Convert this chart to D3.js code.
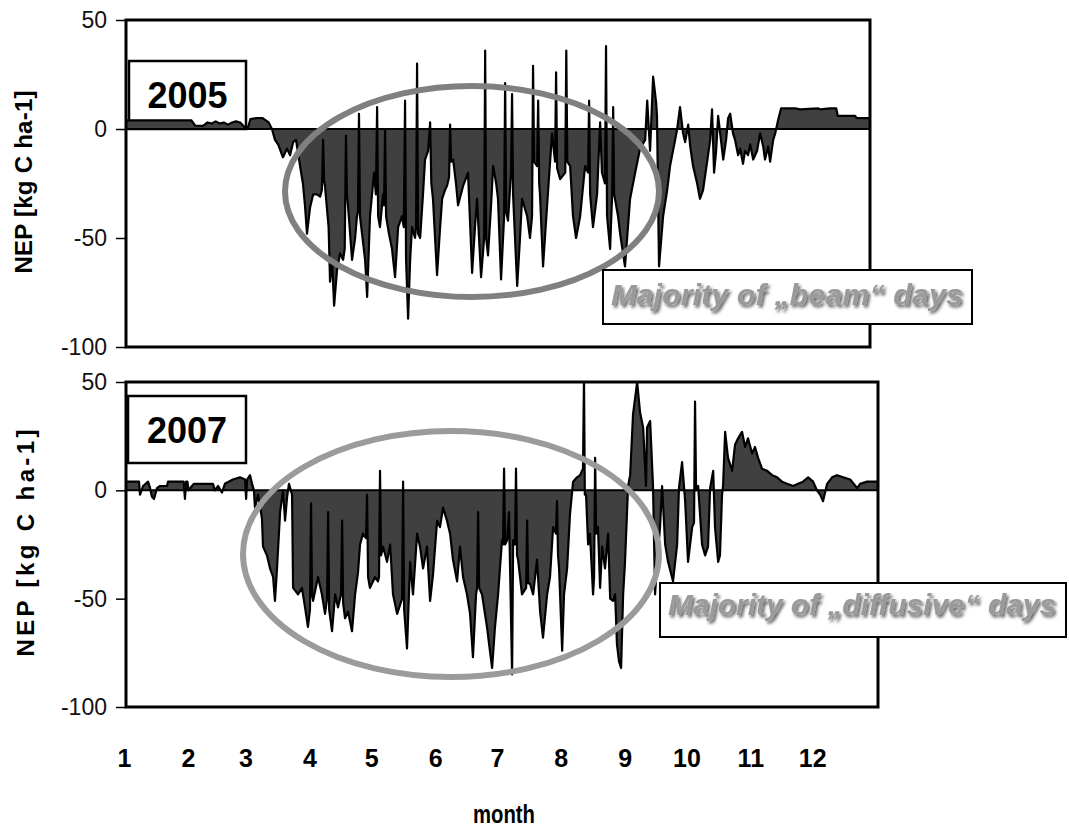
<!DOCTYPE html>
<html>
<head>
<meta charset="utf-8">
<script src="https://d3js.org/d3.v7.min.js"></script>
<style>
  html, body { margin: 0; padding: 0; background: #ffffff; }
  svg { display: block; }
  text { font-family: "Liberation Sans", Arial, Helvetica, sans-serif; }
</style>
</head>
<body>
<svg id="chart" width="1069" height="827"></svg>
<script>
// ---------------- DATA ----------------
// Month tick labels and their day-of-year positions (month start)
const monthLabels = ["1","2","3","4","5","6","7","8","9","10","11","12"];
const monthStartDays = [0,31,59,90,120,151,181,212,243,273,304,334];
const yTickValues = [50, 0, -50, -100];

// 2005 NEP series: day of year and value [kg C ha-1]
const days2005 = [
  0,32,34,38,40,42,44,46,48,50,52,54,56,58,60,61,64,67,70,71.6,
  73.1,74.6,77,79,80.5,82,83.4,85.4,86.8,87.8,88.8,90.3,91.8,93.7,95.2,96.1,96.7,97.2,97.6,
  99.4,100.1,101.1,102.1,103.5,105,106.5,107.3,107.9,108.4,108.9,110.9,112.4,113.3,113.8,114.3,114.8,115.8,117.3,118.3,119.7,
  121.7,122.6,123.2,123.7,124.6,126.1,126.6,127.1,127.6,129,
  130.5,132,133.5,135.4,136.3,136.9,137.4,138.4,139.4,140.3,141.8,142.3,142.8,143.3,144.3,145.7,146.7,148.2,149.2,149.8,
  150.6,152.6,154.1,155.1,156.5,157.5,158.5,159,159.5,
  160.5,161.9,162.9,165.4,167.8,169.8,171.2,172.2,174.2,175.7,176.2,176.7,177.6,179.1,180.1,181.6,182.5,184,185.5,186,186.5,
  187.4,188.9,189.4,189.9,
  191.9,193.3,194.3,196.8,198.2,199.2,199.7,200.2,201.7,202.2,202.7,203.1,204.6,206.6,209,210.5,211,211.5,213,215.5,216,216.5,
  217.9,219.3,220.8,
  222.8,225.2,226.7,227.2,227.7,229.1,231.1,232.6,233.5,235,235.5,236,237.5,238.5,239,239.5,241.4,242.4,244.8,247.3,249.8,
  252.2,254.7,255.7,257.1,258.6,260.1,260.5,261.5,
  263.5,265.5,266.9,269.4,270.4,271.8,273.3,274.3,275.8,276.8,278.2,280.2,281.6,283.1,285.1,286.6,287.5,288.5,289.5,290.5,291.5,
  293,294.4,295.4,296.4,297.8,298.8,300.3,301.3,302.7,303.7,305.2,306.2,307.7,309.6,311.1,312.6,313.5,315,316,317.5,318.5,319.9,321.4,
  328.3,330.7,339.5,340.5,345.4,348.4,349.2,357.7,358.5,365
];
const nep2005 = [
  4,4,1.5,1.5,3,2.5,3.5,2.5,3,2,3,3.5,3,1,1,4.5,5,5,3,0,
  -5,-7,-13,-9,-12,-6,-5,-17,-25,-35,-48,-36,-30,-30,-31,-28,-5,-24,-26,
  -45,-70,-60,-81,-65,-57,-60,-55,-3,-30,-35,-60,-50,-40,-38,7,-40,-48,-60,-77,-40,
  -20,-30,10,-40,-45,-30,-35,0,-40,-48,
  -55,-68,-45,-40,-45,13,-60,-87,-60,-45,-50,-45,30,-48,-50,-30,-14,-10,3,-25,
  -32,-67,-45,-32,-28,-26,-22,2,-15,
  -14,-25,-35,-26,-20,-66,-45,-32,-68,-50,36,-50,-58,-35,-17,-25,-32,-69,-40,21,-38,
  -42,-20,16,-30,
  -72,-50,-32,-40,-50,-40,29,-15,-17,13,-25,-30,-63,-35,-2,-15,26,-18,-23,-20,36,-15,
  -17,-40,-50,
  -40,-17,-20,13,-30,-45,-30,3,-20,-25,38,-40,-55,-30,10,-30,-40,-48,-63,-32,-20,
  -9,-5,13,-10,24,12,6,-63,
  -40,-28,-17,-5,0,10,-2,-6,2,-8,-17,-25,-32,-28,-15,-5,9,-20,-10,6,-2,
  -14,-5,5,7,-2,-5,-12,-9,-16,-10,-12,-7,-14,-10,-2,-8,-14,-8,-15,-5,-2,4,9.5,
  9.5,9,9.5,9,9.5,9.5,6,6,5,5
];

// 2007 NEP series: day of year and value [kg C ha-1]
const days2007 = [
  0,6.3,6.8,8.3,10.7,11.7,12.6,13.6,15,16.5,19.9,20.4,28,28.6,29.2,29.8,30.4,32,33,42.2,43.2,44.7,46.6,48,51.9,55.3,57.8,58.3,58.8,60.2,61.2,62.1,
  62.6,64.1,66,66.5,68.4,69.9,71.4,72.3,73.3,74.8,76.2,77.2,78.2,79.1,80.6,81.1,83.5,85.4,86.9,88.3,89.3,89.8,90.3,
  90.8,93.2,95.1,96.6,97.6,98.1,98.6,100,101.5,102.9,104.4,104.9,105.4,106.3,107.8,109.7,111.2,112.6,113.6,115,116.5,117,117.5,118.4,
  120.9,122.3,122.8,123.3,123.8,124.8,126.7,128.2,129.6,131.6,134,134.5,135,136.4,137.9,139.3,141.3,142.7,144.2,146.1,147.6,149,
  151,152.4,153.9,155.8,157.3,158.7,160.7,162.1,163.6,165.5,167,168.4,169.9,170.4,170.9,171.4,172.8,175.2,177.7,179.1,180.6,
  182.5,183,183.5,184,185,185.9,187.4,187.9,188.8,189.3,189.8,190.3,192.2,194.2,194.7,195.2,196.1,197.6,199.5,201,202.4,204.4,205.8,207.3,
  208.7,209.2,209.7,210.2,
  211.7,212.6,214.1,215.5,217,218.9,220.4,221.8,222.3,222.7,223.3,224.3,225.2,226.7,227.2,227.7,228.2,229.1,230.1,231.1,232.5,234,235,
  236.4,237.4,238.3,239.3,240.3,241.3,242.2,243.7,244.7,246.1,248.1,249.5,251,252.4,252.9,254.4,255.8,256.8,257.8,259.2,
  260.2,261.7,263.1,265.5,267.5,268.4,269.9,271.4,272.8,274.8,275.7,276.2,276.7,277.7,279.6,281.1,282.5,283.5,285,285.9,287.4,288.3,
  289.3,289.8,290.8,292.2,294.2,295.6,297.1,299,300.5,301.9,303.9,305.3,306.8,308.7,311.2,313.6,316,318.4,320.9,323.8,
  326.2,328.6,331.1,333.5,335.4,336.9,338.3,340.3,342.7,345.1,348.1,351.5,354.9,356.3,359.7,365
];
const nep2007 = [
  4,4,-2,2,4,1,-3,-4,1,2,2,4,4,-4,4,4,0,2,3,3,0,2,-1,3,5,6,5,-4,5,7,3,0,
  -8,-2,-13,-26,-30,-36,-40,-51,-36,-10,0,-14,-3,3,-2,-45,-48,-45,-54,-63,-55,-6,-48,
  -51,-40,-48,-57,-50,-10,-55,-65,-48,-54,-48,-14,-52,-59,-56,-65,-48,-38,-25,-20,-22,-2,-40,-45,
  -40,-42,-40,9,-30,-26,-33,-25,-48,-57,-50,4,-55,-73,-33,-48,-20,-26,-36,-26,-51,-39,
  -14,-17,-8,-14,-20,-32,-42,-26,-40,-48,-57,-77,-48,-45,-10,-45,-48,-63,-82,-63,-48,
  -23,-25,10,-25,-23,-10,-85,-23,-25,10,-30,-32,-48,-45,-14,-43,-43,-48,-32,-56,-68,-48,-40,-17,
  -20,-5,-30,-36,
  -74,-48,-36,-11,4,6,7,10,52,-2,-2,-25,-20,-48,-40,15,-20,-17,-45,-26,-36,-20,-50,
  -51,-48,-71,-79,-82,-48,-33,2,7,35,50,36,29,2,29,32,2,-48,-33,-17,
  2,-25,-33,-42,-25,1,13,-5,-33,-17,-15,41,0,2,-25,-30,-26,1,9,-17,-33,-30,
  -2,2,27,15,9,21,24,27,20,24,17,20,15,10,9,7,6,4,3,2,
  3,4,6,4,0,-2,-5,3,6,7,6,5,1,3,4,4
];

// ---------------- LAYOUT ----------------
const svg = d3.select("#chart");
svg.append("rect").attr("width", 1069).attr("height", 827).attr("fill", "#ffffff");

const defs = svg.append("defs");
const f = defs.append("filter").attr("id", "shadow")
  .attr("x", "-5%").attr("y", "-30%").attr("width", "115%").attr("height", "170%");
f.append("feDropShadow").attr("dx", 2).attr("dy", 2.5).attr("stdDeviation", 1.6)
  .attr("flood-color", "#000").attr("flood-opacity", 0.6);

const panels = [
  { days: days2005, vals: nep2005, year: "2005",
    x0: 126, x1: 870, y0: 20, y1: 347,
    yearBox: [129, 61, 246, 129], yearBase: 108,
    ell: { cx: 472, cy: 191.5, rx: 187, ry: 105.5, color: "#808080" },
    note: "Majority of \u201Ebeam\u201C days", noteBox: [603, 270, 972, 324], noteX: 611, noteBase: 305, noteLen: 352,
    titleX: 32, titleY: 182, titleLen: 183 },
  { days: days2007, vals: nep2007, year: "2007",
    x0: 126, x1: 878, y0: 382, y1: 707,
    yearBox: [128, 396, 246, 463], yearBase: 443,
    ell: { cx: 451, cy: 554, rx: 208, ry: 123, color: "#9b9b9b" },
    note: "Majority of \u201Ediffusive\u201C days", noteBox: [660, 583, 1066, 637], noteX: 668, noteBase: 615, noteLen: 388,
    titleX: 34, titleY: 543, titleLen: 227 }
];

panels.forEach((p, i) => {
  const x = d3.scaleLinear().domain([0, 365]).range([p.x0, p.x1]);
  const y = d3.scaleLinear().domain([-100, 50]).range([p.y1, p.y0]);
  const g = svg.append("g");

  // year box (behind data)
  const yb = p.yearBox;
  g.append("rect").attr("x", yb[0]).attr("y", yb[1]).attr("width", yb[2] - yb[0]).attr("height", yb[3] - yb[1])
    .attr("fill", "#fff").attr("stroke", "#000").attr("stroke-width", 2.5);
  g.append("text").attr("x", (yb[0] + yb[2]) / 2).attr("y", p.yearBase)
    .attr("text-anchor", "middle").attr("font-size", 36).attr("font-weight", "bold")
    .attr("fill", "#000").text(p.year);

  const clipId = "clip" + i;
  defs.append("clipPath").attr("id", clipId).append("rect")
    .attr("x", p.x0).attr("y", p.y0).attr("width", p.x1 - p.x0).attr("height", p.y1 - p.y0);

  const pts = p.days.map((d, k) => [d, p.vals[k]]);
  const area = d3.area().x(d => x(d[0])).y0(y(0)).y1(d => y(d[1]));
  const line = d3.line().x(d => x(d[0])).y(d => y(d[1]));

  const dg = g.append("g").attr("clip-path", `url(#${clipId})`);
  dg.append("path").datum(pts).attr("d", area).attr("fill", "#404040");
  dg.append("path").datum(pts).attr("d", line).attr("fill", "none")
    .attr("stroke", "#000").attr("stroke-width", 2.2).attr("stroke-linejoin", "round");

  // zero line
  g.append("line").attr("x1", p.x0).attr("x2", p.x1).attr("y1", y(0)).attr("y2", y(0))
    .attr("stroke", "#000").attr("stroke-width", 2);

  // frame
  g.append("rect").attr("x", p.x0).attr("y", p.y0).attr("width", p.x1 - p.x0).attr("height", p.y1 - p.y0)
    .attr("fill", "none").attr("stroke", "#000").attr("stroke-width", 3);

  // y axis
  const ax = g.append("g").attr("transform", `translate(${p.x0},0)`)
    .call(d3.axisLeft(y).tickValues(yTickValues).tickSize(10).tickPadding(9).tickFormat(d => String(d)));
  ax.select(".domain").remove();
  ax.selectAll(".tick line").attr("stroke", "#000").attr("stroke-width", 1.5);
  ax.selectAll(".tick text").attr("font-size", 23).attr("fill", "#111")
    .attr("font-family", "'Liberation Sans', Arial, sans-serif");

  // y title
  g.append("text").attr("transform", `translate(${p.titleX},${p.titleY}) rotate(-90)`)
    .attr("text-anchor", "middle").attr("font-size", 24).attr("font-weight", "bold")
    .attr("textLength", p.titleLen).attr("lengthAdjust", "spacing")
    .attr("fill", "#000").text("NEP [kg C ha-1]");

  // ellipse
  g.append("ellipse").attr("cx", p.ell.cx).attr("cy", p.ell.cy).attr("rx", p.ell.rx).attr("ry", p.ell.ry)
    .attr("fill", "none").attr("stroke", p.ell.color).attr("stroke-width", 6);

  // note box
  const nb = p.noteBox;
  g.append("rect").attr("x", nb[0]).attr("y", nb[1]).attr("width", nb[2] - nb[0]).attr("height", nb[3] - nb[1])
    .attr("fill", "#fff").attr("stroke", "#000").attr("stroke-width", 2);
  g.append("text").attr("x", p.noteX).attr("y", p.noteBase)
    .attr("font-size", 30).attr("font-weight", "bold").attr("font-style", "italic")
    .attr("fill", "#9a9a9a").attr("filter", "url(#shadow)")
    .attr("textLength", p.noteLen).attr("lengthAdjust", "spacingAndGlyphs")
    .text(p.note);

  if (i === 1) {
    // month axis below the lower panel
    const mx = g.append("g").attr("transform", `translate(-2,749)`)
      .call(d3.axisBottom(x).tickValues(monthStartDays).tickSize(0).tickPadding(0)
        .tickFormat((d, k) => monthLabels[k]));
    mx.select(".domain").remove();
    mx.selectAll(".tick text").attr("font-size", 25).attr("font-weight", "bold").attr("fill", "#000")
      .attr("font-family", "'Liberation Sans', Arial, sans-serif");
    g.append("text").attr("x", 504).attr("y", 823).attr("text-anchor", "middle")
      .attr("font-size", 25).attr("font-weight", "bold").attr("textLength", 62)
      .attr("lengthAdjust", "spacingAndGlyphs").attr("fill", "#000").text("month");
  }
});
</script>
</body>
</html>
